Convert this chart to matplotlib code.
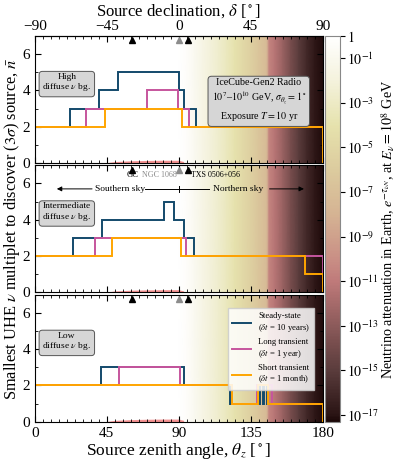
import numpy as np
import matplotlib.pyplot as plt
from matplotlib.colors import LinearSegmentedColormap, LogNorm
from matplotlib.cm import ScalarMappable
from matplotlib.lines import Line2D
from matplotlib.ticker import MultipleLocator, FixedLocator

plt.rcParams["font.family"] = ["Liberation Serif", "DejaVu Serif"]
plt.rcParams["mathtext.fontset"] = "stix"

# step curves: bin edges (zenith, deg) and multiplet size
high_ss_edges = [0, 22, 40, 52, 90, 93.3, 101, 180]
high_ss_vals = [2, 3, 4, 5, 4, 3, 2]
high_lt_edges = [0, 32, 70, 89.2, 96.5, 180]
high_lt_vals = [2, 3, 4, 3, 2]
high_st_edges = [0, 44, 92, 180]
high_st_vals = [2, 3, 2]

mid_ss_edges = [0, 24, 42, 81, 87, 93, 99.5, 180]
mid_ss_vals = [2, 3, 4, 5, 4, 3, 2]
mid_lt_edges = [0, 37.5, 94.5, 180]
mid_lt_vals = [2, 3, 2]
mid_st_edges = [0, 48.5, 91.5, 169, 180]
mid_st_vals = [2, 3, 2, 1]

low_ss_edges = [0, 41.5, 93.5, 122, 140.5, 142.5, 143.5, 145, 180]
low_ss_vals = [2, 3, 2, 1, 2, 1, 2, 1]
low_lt_edges = [0, 52.5, 90.5, 123, 138.7, 148.5, 180]
low_lt_vals = [2, 3, 2, 1, 2, 1]
low_st_edges = [0, 123, 139.5, 146, 180]
low_st_vals = [2, 1, 2, 1]

# Earth attenuation vs zenith (log10)
bg_zenith = [0, 90, 95, 100, 105, 110, 115, 120, 125, 130, 135, 140, 145, 146.5,
             150, 155, 160, 165, 170, 175, 180]
bg_log_att = [0, 0, -0.3, -0.9, -1.5, -2.1, -2.7, -3.3, -4.0, -4.8, -5.6, -6.5, -7.4, -10.5,
              -11.3, -12.5, -13.8, -15.0, -16.0, -16.8, -17.2]

# thin red band near n = 0
red_zenith = [45, 50, 60, 70, 80, 90, 93]
red_height = [0.02, 0.08, 0.12, 0.14, 0.15, 0.15, 0.08]

# sources (zenith, deg)
src_names = ["GC", "NGC 1068", "TXS 0506+056"]
src_zenith = [61.0, 90.0, 95.7]
src_colors = ["black", "#8c8c8c", "black"]

dec_ticks = [-90, -45, 0, 45, 90]

# colormap nodes (log10 attenuation -> colour)
cmap_logs = [-17.3, -17, -15, -13, -11, -10, -8, -6, -4, -2, 0]
cmap_colors = ["#1c0808", "#2a1414", "#5a3c3c", "#8c5a5a", "#bf7a7a", "#c98f85",
               "#d5b393", "#dccb9e", "#e6e2ad", "#f4f2dc", "#ffffff"]

c_ss, c_lt, c_st = "#134a6b", "#c6559d", "#ffa500"
VMIN_LOG = -17.3


def make_cmap():
    pos = [(v - VMIN_LOG) / (0 - VMIN_LOG) for v in cmap_logs]
    return LinearSegmentedColormap.from_list("atten", list(zip(pos, cmap_colors)))


def draw_panel(ax, steps, box_text, cmap, norm):
    X = np.array([bg_zenith, bg_zenith])
    Y = np.array([[0] * len(bg_zenith), [7] * len(bg_zenith)])
    C = 10.0 ** np.array([bg_log_att, bg_log_att])
    ax.pcolormesh(X, Y, C, shading="gouraud", cmap=cmap, norm=norm, zorder=0, rasterized=True)

    ax.fill_between(red_zenith, 0, red_height, color="#f06464", alpha=0.7, lw=0, zorder=1)

    for (edges, vals), col in zip(steps, [c_ss, c_lt, c_st]):
        ax.stairs(vals, edges, baseline=0, color=col, lw=1.4, zorder=2)

    tr = ax.get_xaxis_transform()
    for x, col in zip(src_zenith, src_colors):
        ax.plot(x, 0.965, marker="^", ms=4.5, color=col, transform=tr, zorder=4, clip_on=False)

    ax.text(20, 4.4, box_text, ha="center", va="center", fontsize=6.8, linespacing=1.1,
            bbox=dict(boxstyle="round,pad=0.35", fc="#d6d6d6", ec="#555555", lw=0.7), zorder=5)

    ax.set_xlim(0, 180)
    ax.set_ylim(0, 7)
    ax.xaxis.set_major_locator(MultipleLocator(45))
    ax.xaxis.set_minor_locator(MultipleLocator(5))
    ax.yaxis.set_major_locator(MultipleLocator(2))
    ax.yaxis.set_minor_locator(MultipleLocator(1))
    ax.tick_params(which="both", direction="in", top=True, right=True, labelsize=11)
    ax.tick_params(which="major", length=4)
    ax.tick_params(which="minor", length=2)


def main():
    fig = plt.figure(figsize=(3.96, 4.63), dpi=100)
    cmap = make_cmap()
    norm = LogNorm(vmin=10 ** VMIN_LOG, vmax=1)

    h, gap, left, width = 0.2745, 0.005, 0.088, 0.727
    ax3 = fig.add_axes([left, 0.089, width, h])
    ax2 = fig.add_axes([left, 0.089 + h + gap, width, h])
    ax1 = fig.add_axes([left, 0.089 + 2 * (h + gap), width, h])

    draw_panel(ax1, [(high_ss_edges, high_ss_vals), (high_lt_edges, high_lt_vals),
                     (high_st_edges, high_st_vals)], "High\ndiffuse $\\nu$ bg.", cmap, norm)
    draw_panel(ax2, [(mid_ss_edges, mid_ss_vals), (mid_lt_edges, mid_lt_vals),
                     (mid_st_edges, mid_st_vals)], "Intermediate\ndiffuse $\\nu$ bg.", cmap, norm)
    draw_panel(ax3, [(low_ss_edges, low_ss_vals), (low_lt_edges, low_lt_vals),
                     (low_st_edges, low_st_vals)], "Low\ndiffuse $\\nu$ bg.", cmap, norm)

    for ax in (ax1, ax2):
        ax.tick_params(labelbottom=False)
    ax1.tick_params(top=False, which="both")

    # declination axis on top
    sec = ax1.secondary_xaxis("top", functions=(lambda z: z - 90, lambda d: d + 90))
    sec.xaxis.set_major_locator(FixedLocator(dec_ticks))
    sec.xaxis.set_minor_locator(FixedLocator(list(range(-85, 90, 5))))
    sec.tick_params(which="both", direction="in", labelsize=11, pad=2)
    sec.tick_params(which="major", length=4)
    sec.tick_params(which="minor", length=2)
    sec.set_xlabel("Source declination, $\\delta$ [$^\\circ$]", fontsize=12, labelpad=3)

    ax1.text(140, 3.45, "IceCube-Gen2 Radio\n$10^7$\u2013$10^{10}$ GeV, $\\sigma_{\\theta_z}=1^\\circ$\n"
             "Exposure $T = 10$ yr", ha="center", va="center", fontsize=7.2, linespacing=1.25,
             bbox=dict(boxstyle="round,pad=0.35", fc="#d6d6d6", ec="#555555", lw=0.7), zorder=5)

    # source names and sky hemispheres in the middle panel
    ax2.text(61, 6.45, "GC", ha="center", va="center", fontsize=6.2)
    ax2.text(88.5, 6.45, "NGC 1068", ha="right", va="center", fontsize=5.8, color="#8c8c8c")
    ax2.text(97.5, 6.45, "TXS 0506+056", ha="left", va="center", fontsize=5.8)

    ys = 5.7
    ax2.plot([69, 90, 109], [ys, ys, ys], color="black", lw=0.7, zorder=3)
    ax2.plot([90, 90], [ys - 0.15, ys + 0.15], color="black", lw=0.7, zorder=3)
    ax2.annotate("", xy=(12, ys), xytext=(37.5, ys),
                 arrowprops=dict(arrowstyle="-|>", lw=0.7, color="black", mutation_scale=7))
    ax2.annotate("", xy=(170, ys), xytext=(145, ys),
                 arrowprops=dict(arrowstyle="-|>", lw=0.7, color="black", mutation_scale=7))
    ax2.text(53, ys, "Southern sky", ha="center", va="center", fontsize=6.8)
    ax2.text(127, ys, "Northern sky", ha="center", va="center", fontsize=6.8)

    handles = [Line2D([], [], color=c_ss, lw=1.4), Line2D([], [], color=c_lt, lw=1.4),
               Line2D([], [], color=c_st, lw=1.4)]
    labels = ["Steady-state\n($\\delta t$ = 10 years)", "Long transient\n($\\delta t$ = 1 year)",
              "Short transient\n($\\delta t$ = 1 month)"]
    leg = ax3.legend(handles, labels, loc="upper right", bbox_to_anchor=(0.985, 0.93), fontsize=6.2,
                     handlelength=2.2, labelspacing=0.5, borderpad=0.5, framealpha=0.85,
                     fancybox=False, edgecolor="#cccccc")
    leg.set_zorder(6)

    ax3.set_xlabel("Source zenith angle, $\\theta_z$ [$^\\circ$]", fontsize=12.5, labelpad=1)
    fig.text(0.03, 0.505, "Smallest UHE $\\nu$ multiplet to discover ($3\\sigma$) source, $\\bar{n}$",
             rotation=90, ha="center", va="center", fontsize=11.8)

    # colorbar for the Earth attenuation
    cax = fig.add_axes([0.821, 0.089, 0.038, 3 * h + 2 * gap])
    cb = fig.colorbar(ScalarMappable(norm=norm, cmap=cmap), cax=cax)
    ticks = [1.0] + [10.0 ** -k for k in range(1, 18, 2)]
    cb.set_ticks(ticks)
    cb.set_ticklabels(["$1$"] + [f"$10^{{-{k}}}$" for k in range(1, 18, 2)])
    cb.ax.minorticks_off()
    cb.ax.tick_params(labelsize=10, length=3.5, pad=1.5)
    cb.outline.set_edgecolor("#888888")
    cb.set_label("Neutrino attenuation in Earth, $e^{-\\tau_{\\nu N}}$, at $E_\\nu = 10^8$ GeV",
                 fontsize=10.2, labelpad=0)

    fig.savefig("out.png", dpi=100)
    plt.close(fig)


if __name__ == "__main__":
    main()
